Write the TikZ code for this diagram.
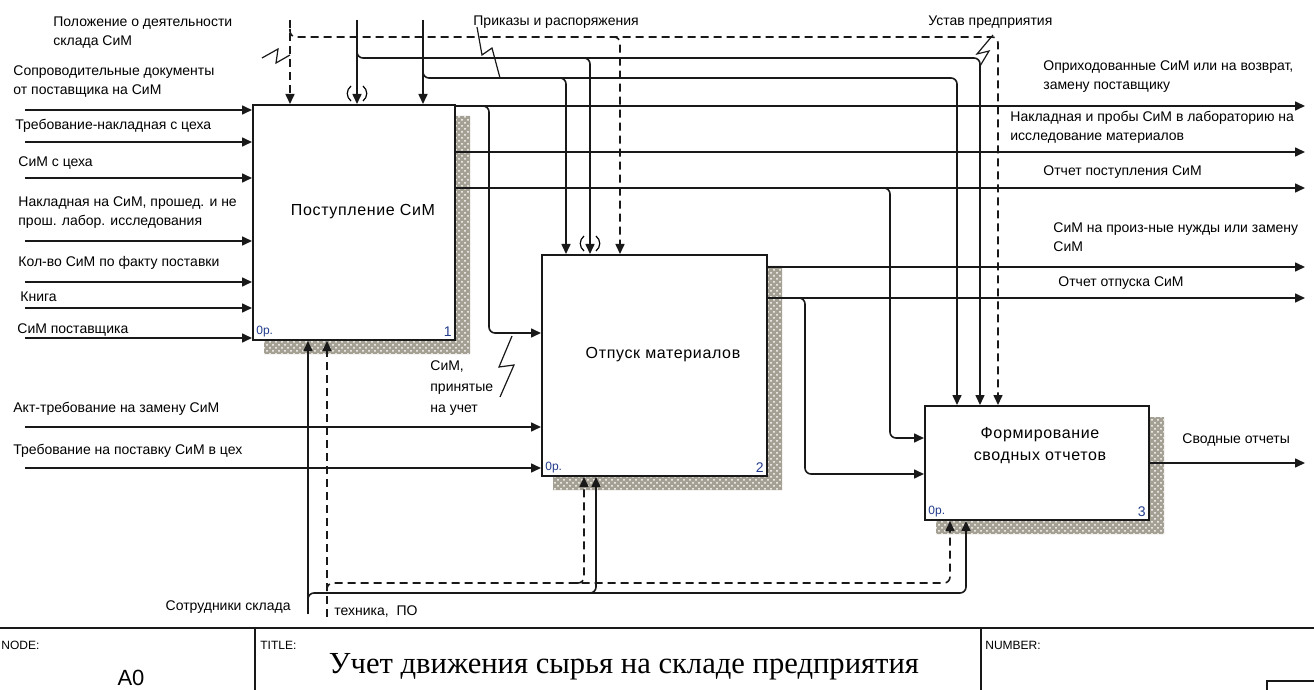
\documentclass[tikz,border=0pt]{standalone}
\usepackage{fontspec}
\setmainfont{Liberation Sans}
\newfontfamily\titleserif{Liberation Serif}
\definecolor{idefink}{RGB}{25,25,25}
\definecolor{shadowgray}{RGB}{165,160,148}
\definecolor{numblue}{RGB}{35,60,140}
\usetikzlibrary{arrows.meta, positioning, calc, patterns}

\tikzset{
  actbox/.style={draw=idefink, line width=1pt, fill=white, inner sep=0pt},
  boxname/.style={font={\fontsize{8}{11}\selectfont\addfontfeatures{LetterSpace=4}}, align=center, inner sep=0pt},
  lbl/.style={font={\fontsize{7}{9.5}\selectfont}, align=left, inner sep=0pt, anchor=west},
  flow/.style={draw=idefink, line width=0.8pt, rounded corners=3pt},
  arr/.style={flow, -{Triangle[length=5pt,width=4.5pt]}},
  dashline/.style={dash pattern=on 4pt off 2.5pt},
  bolt/.style={draw=idefink, line width=0.6pt},
  shadowband/.style={fill=shadowgray, postaction={pattern=crosshatch dots, pattern color=white}},
  frame/.style={draw=idefink, line width=1pt},
  framelbl/.style={font={\fontsize{6}{7}\selectfont}, anchor=west, inner sep=0pt},
  tunnel/.pic={
    \draw[line width=0.6pt] (-6,-18) .. controls (-11,-14) and (-11,-7) .. (-6,-3);
    \draw[line width=0.6pt] (6,-18) .. controls (11,-14) and (11,-7) .. (6,-3);
  }
}

\begin{document}
\begin{tikzpicture}[x=0.5pt, y=-0.5pt]
  \useasboundingbox (0,0) rectangle (1314,690);
  \clip (0,0) rectangle (1314,690);

  % activity boxes
  \node[actbox, minimum width=101pt, minimum height=117.5pt] (b1) at (354,222.5) {};
  \node[actbox, minimum width=112.5pt, minimum height=110.5pt] (b2) at (654.5,365.5) {};
  \node[actbox, minimum width=112pt, minimum height=57pt] (b3) at (1037,463) {};

  \foreach \bx in {b1,b2,b3}
    \path[shadowband] ($(\bx.north east)+(0,12)$) -| ($(\bx.south east)+(14,13)$)
      -| ($(\bx.south west)+(12,0)$) -- (\bx.south east) -- cycle;

  \node[boxname] (n1) at (363,212) {Поступление СиМ};
  \node[boxname] (n2) at (663,355) {Отпуск материалов};
  \node[boxname] (n3) at (1040,446) {Формирование\\сводных отчетов};

  \foreach \bx/\k in {b1/1,b2/2,b3/3}{
    \node[font={\fontsize{6}{7}\selectfont}, text=numblue, anchor=south west, inner sep=2pt] (zr\bx) at (\bx.south west) {0р.};
    \node[font={\fontsize{7}{8}\selectfont}, text=numblue, anchor=south east, inner sep=2pt] (nr\bx) at (\bx.south east) {\k};
  }

  % inputs
  \foreach \y/\n in {110/1,142/2,178/3,241/4,282/5,308/6,338/7}{
    \coordinate (in\n) at (25,\y);
    \draw[arr] (in\n) -- (b1.west |- in\n);
  }
  \foreach \y/\n in {427/8,468/9}{
    \coordinate (in\n) at (25,\y);
    \draw[arr] (in\n) -- (b2.west |- in\n);
  }
  \node[lbl] (l1) at (13,82) {Сопроводительные документы\\от поставщика на СиМ};
  \node[lbl] (l2) at (15,126) {Требование-накладная с цеха};
  \node[lbl] (l3) at (18,163) {СиМ с цеха};
  \node[lbl] (l4) at (18,212.5) {Накладная на СиМ, прошед. и не\\прош. лабор. исследования};
  \node[lbl] (l5) at (18,263) {Кол-во СиМ по факту поставки};
  \node[lbl] (l6) at (20,297) {Книга};
  \node[lbl] (l7) at (17,330) {СиМ поставщика};
  \node[lbl] (l8) at (13,409) {Акт-требование на замену СиМ};
  \node[lbl] (l9) at (13,451) {Требование на поставку СиМ в цех};

  % outputs
  \coordinate (o1) at (1305,106);
  \coordinate (o2) at (1305,152);
  \coordinate (o3) at (1305,188);
  \coordinate (o4) at (1305,267);
  \coordinate (o5) at (1305,298);
  \coordinate (o6) at (1305,463);
  \draw[arr] (b1.east |- o1) -- (o1);
  \draw[arr] (b1.east |- o2) -- (o2);
  \draw[arr] (b1.east |- o3) -- (o3);
  \draw[arr] (b2.east |- o4) -- (o4);
  \draw[arr] (b2.east |- o5) -- (o5);
  \draw[arr] (b3.east |- o6) -- (o6);
  \draw[arr] (481,106) -| (489,333) -- (b2.west |- 0,333);
  \draw[arr] (882,188) -| (890,438) -- (b3.west |- 0,438);
  \draw[arr] (797,298) -| (805,474) -- (b3.west |- 0,474);

  \node[lbl] (lo1) at (1043,77) {Оприходованные СиМ или на возврат,\\замену поставщику};
  \node[lbl] (lo2) at (1010,127) {Накладная и пробы СиМ в лабораторию на\\исследование материалов};
  \node[lbl] (lo3) at (1043,172) {Отчет поступления СиМ};
  \node[lbl] (lo4) at (1053,237.5) {СиМ на произ-ные нужды или замену\\СиМ};
  \node[lbl] (lo5) at (1058,283) {Отчет отпуска СиМ};
  \node[lbl] (lo6) at (1182,440) {Сводные отчеты};
  \node[lbl] (lk) at (430,388) {СиМ,\\[1pt]принятые\\[1pt]на учет};
  \draw[bolt] (512,336) -- (499,367) -- (514,365) -- (500,397);

  % controls
  \coordinate (c1) at (290,20);
  \coordinate (c2) at (357,20);
  \coordinate (c3) at (423,20);
  \draw[arr, dashline] (c1) -- (c1 |- b1.north);
  \draw[arr] (c2) -- (c2 |- b1.north);
  \draw[arr] (c3) -- (c3 |- b1.north);
  \pic at (c2 |- b1.north) {tunnel};

  \coordinate (k3) at (998,37);
  \coordinate (k4) at (620,37);
  \coordinate (k5) at (980,58);
  \coordinate (k6) at (590,58);
  \coordinate (k7) at (957,78);
  \coordinate (k8) at (566,78);
  \draw[arr, dashline] (c1 |- 0,29) |- (k3) -- (k3 |- b3.north);
  \draw[arr, dashline] (612,37) -- (k4) -- (k4 |- b2.north);
  \draw[arr] (c2 |- 0,50) |- (k5) -- (k5 |- b3.north);
  \draw[arr] (582,58) -- (k6) -- (k6 |- b2.north);
  \pic at (k6 |- b2.north) {tunnel};
  \draw[arr] (c3 |- 0,70) |- (k7) -- (k7 |- b3.north);
  \draw[arr] (558,78) -- (k8) -- (k8 |- b2.north);

  \node[lbl] (lc1) at (53,33) {Положение о деятельности\\склада СиМ};
  \node[lbl] (lc2) at (473,22) {Приказы и распоряжения};
  \node[lbl] (lc3) at (928,22) {Устав предприятия};
  \draw[bolt] (262,58) -- (278,49) -- (276,63) -- (290,55);
  \draw[bolt] (477,27) -- (482,55) -- (492,48) -- (500,78);
  \draw[bolt] (993,35) -- (977,54) -- (989,51) -- (980,66);

  % mechanisms
  \coordinate (m1) at (308,614);
  \coordinate (m2) at (327,617);
  \coordinate (k9) at (966,593);
  \coordinate (k10) at (596,593);
  \coordinate (k11) at (950,583);
  \coordinate (k12) at (584,583);
  \draw[arr] (m1) -- (m1 |- b1.south);
  \draw[arr, dashline] (m2) -- (m2 |- b1.south);
  \draw[arr] (m1 |- 0,601) |- (k9) -- (k9 |- b3.south);
  \draw[arr] (588,593) -- (k10) -- (k10 |- b2.south);
  \draw[arr, dashline] (m2 |- 0,591) |- (k11) -- (k11 |- b3.south);
  \draw[arr, dashline] (576,583) -- (k12) -- (k12 |- b2.south);
  \node[lbl, anchor=east] (lm1) at (291,607) {Сотрудники склада};
  \node[lbl] (lm2) at (334,612) {техника,\ \ ПО};

  % title block
  \draw[frame] (0,628) -- (1314,628);
  \draw[frame] (255,628) -- (255,695);
  \draw[frame] (981,628) -- (981,695);
  \draw[frame] (1330,681) -| (1267,700);
  \node[framelbl] (fnode) at (1,645) {NODE:};
  \node[framelbl] (ftitle) at (260,645) {TITLE:};
  \node[framelbl] (fnum) at (985,645) {NUMBER:};
  \node[font={\fontsize{11}{13}\selectfont}] (fa0) at (131,678) {A0};
  \node[font={\titleserif\fontsize{15.3}{17}\selectfont}] (ftxt) at (624,667) {Учет движения сырья на складе предприятия};
\end{tikzpicture}
\end{document}
